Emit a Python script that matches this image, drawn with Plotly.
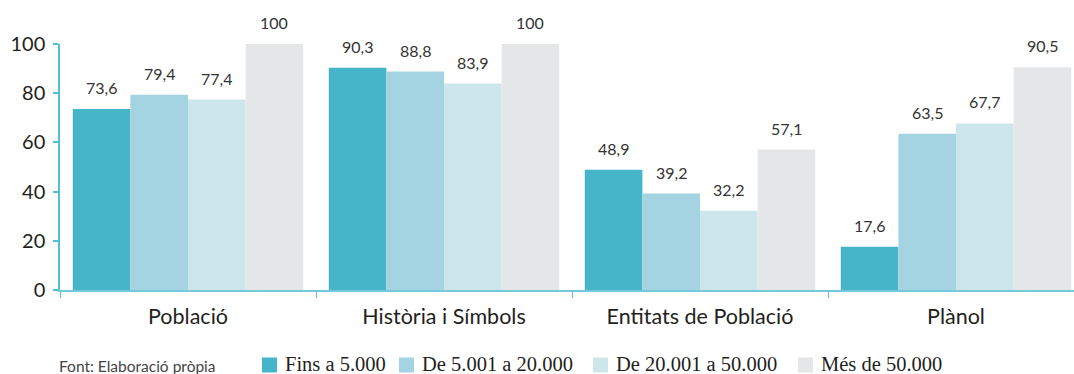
import plotly.graph_objects as go

categories = ["Població", "Història i Símbols", "Entitats de Població", "Plànol"]
series_names = ["Fins a 5.000", "De 5.001 a 20.000", "De 20.001 a 50.000", "Més de 50.000"]
fins_5000 = [73.6, 90.3, 48.9, 17.6]
de_5001_20000 = [79.4, 88.8, 39.2, 63.5]
de_20001_50000 = [77.4, 83.9, 32.2, 67.7]
mes_50000 = [100, 100, 57.1, 90.5]
y_ticks = [0, 20, 40, 60, 80, 100]
footnote = "Font: Elaboració pròpia"

series_values = [fins_5000, de_5001_20000, de_20001_50000, mes_50000]
colors = ["#47b5c9", "#a4d4e1", "#cde6ec", "#e5e6e8"]
axis_color = "#4fc1d4"
label_font = "Lato, 'Open Sans', sans-serif"
legend_font = "'Liberation Serif', 'DejaVu Serif', serif"

W, H = 1074, 374
ML, MR, MT, MB = 60, 0, 44, 84
plot_w = W - ML - MR
plot_h = H - MT - MB
x_range = [-0.5, -0.5 + plot_w / 256.0]

fig = go.Figure()
for name, vals, col in zip(series_names, series_values, colors):
    fig.add_trace(go.Bar(
        x=categories, y=vals, name=name,
        marker=dict(color=col, line=dict(width=0)),
        showlegend=False,
    ))

# value labels above each bar
n = len(series_values)
bar_w = 0.9 / n
annotations = []
for j, vals in enumerate(series_values):
    for i, v in enumerate(vals):
        annotations.append(dict(
            x=i + (j - (n - 1) / 2) * bar_w, y=v, xref="x", yref="y",
            text=f"{v:g}".replace(".", ","), showarrow=False,
            yanchor="bottom", yshift=10,
            font=dict(family=label_font, size=16, color="#333333"),
        ))

# footnote
annotations.append(dict(
    x=(57 - ML) / plot_w, y=(MT + plot_h - 366) / plot_h, xref="paper", yref="paper",
    xanchor="left", yanchor="middle", text=footnote, showarrow=False,
    font=dict(family=label_font, size=15.5, color="#444444"),
))

# legend entries: colored square + serif label
shapes = []
legend_px = [262, 399, 593, 798]
sq = 15
for x0, name, col in zip(legend_px, series_names, colors):
    yc = 365
    shapes.append(dict(
        type="rect", xref="paper", yref="paper",
        x0=(x0 - ML) / plot_w, x1=(x0 + sq - ML) / plot_w,
        y0=(MT + plot_h - (yc + sq / 2)) / plot_h, y1=(MT + plot_h - (yc - sq / 2)) / plot_h,
        fillcolor=col, line=dict(width=0),
    ))
    annotations.append(dict(
        x=(x0 + sq + 6 - ML) / plot_w, y=(MT + plot_h - yc + 1) / plot_h,
        xref="paper", yref="paper", xanchor="left", yanchor="middle",
        text=name, showarrow=False,
        font=dict(family=legend_font, size=20.5, color="#231f20"),
    ))

fig.update_layout(
    width=W, height=H,
    margin=dict(l=ML, r=MR, t=MT, b=MB),
    paper_bgcolor="white", plot_bgcolor="white",
    barmode="group", bargap=0.1, bargroupgap=0,
    showlegend=False,
    annotations=annotations, shapes=shapes,
    xaxis=dict(
        range=x_range, showgrid=False, zeroline=False,
        showline=True, linecolor="#74cad8", linewidth=2,
        ticks="outside", tickson="boundaries", ticklen=6, tickcolor=axis_color, tickwidth=1,
        tickfont=dict(family=label_font, size=21.5, color="#231f20"),
        ticklabelstandoff=6,
    ),
    yaxis=dict(
        range=[0, 100], tickvals=y_ticks, showgrid=False, zeroline=False,
        showline=True, linecolor=axis_color, linewidth=1.5,
        ticks="outside", ticklen=5, tickcolor=axis_color, tickwidth=1.5,
        tickfont=dict(family=label_font, size=20, color="#231f20"),
        ticklabelstandoff=4,
    ),
)

fig.write_html("out.html")
